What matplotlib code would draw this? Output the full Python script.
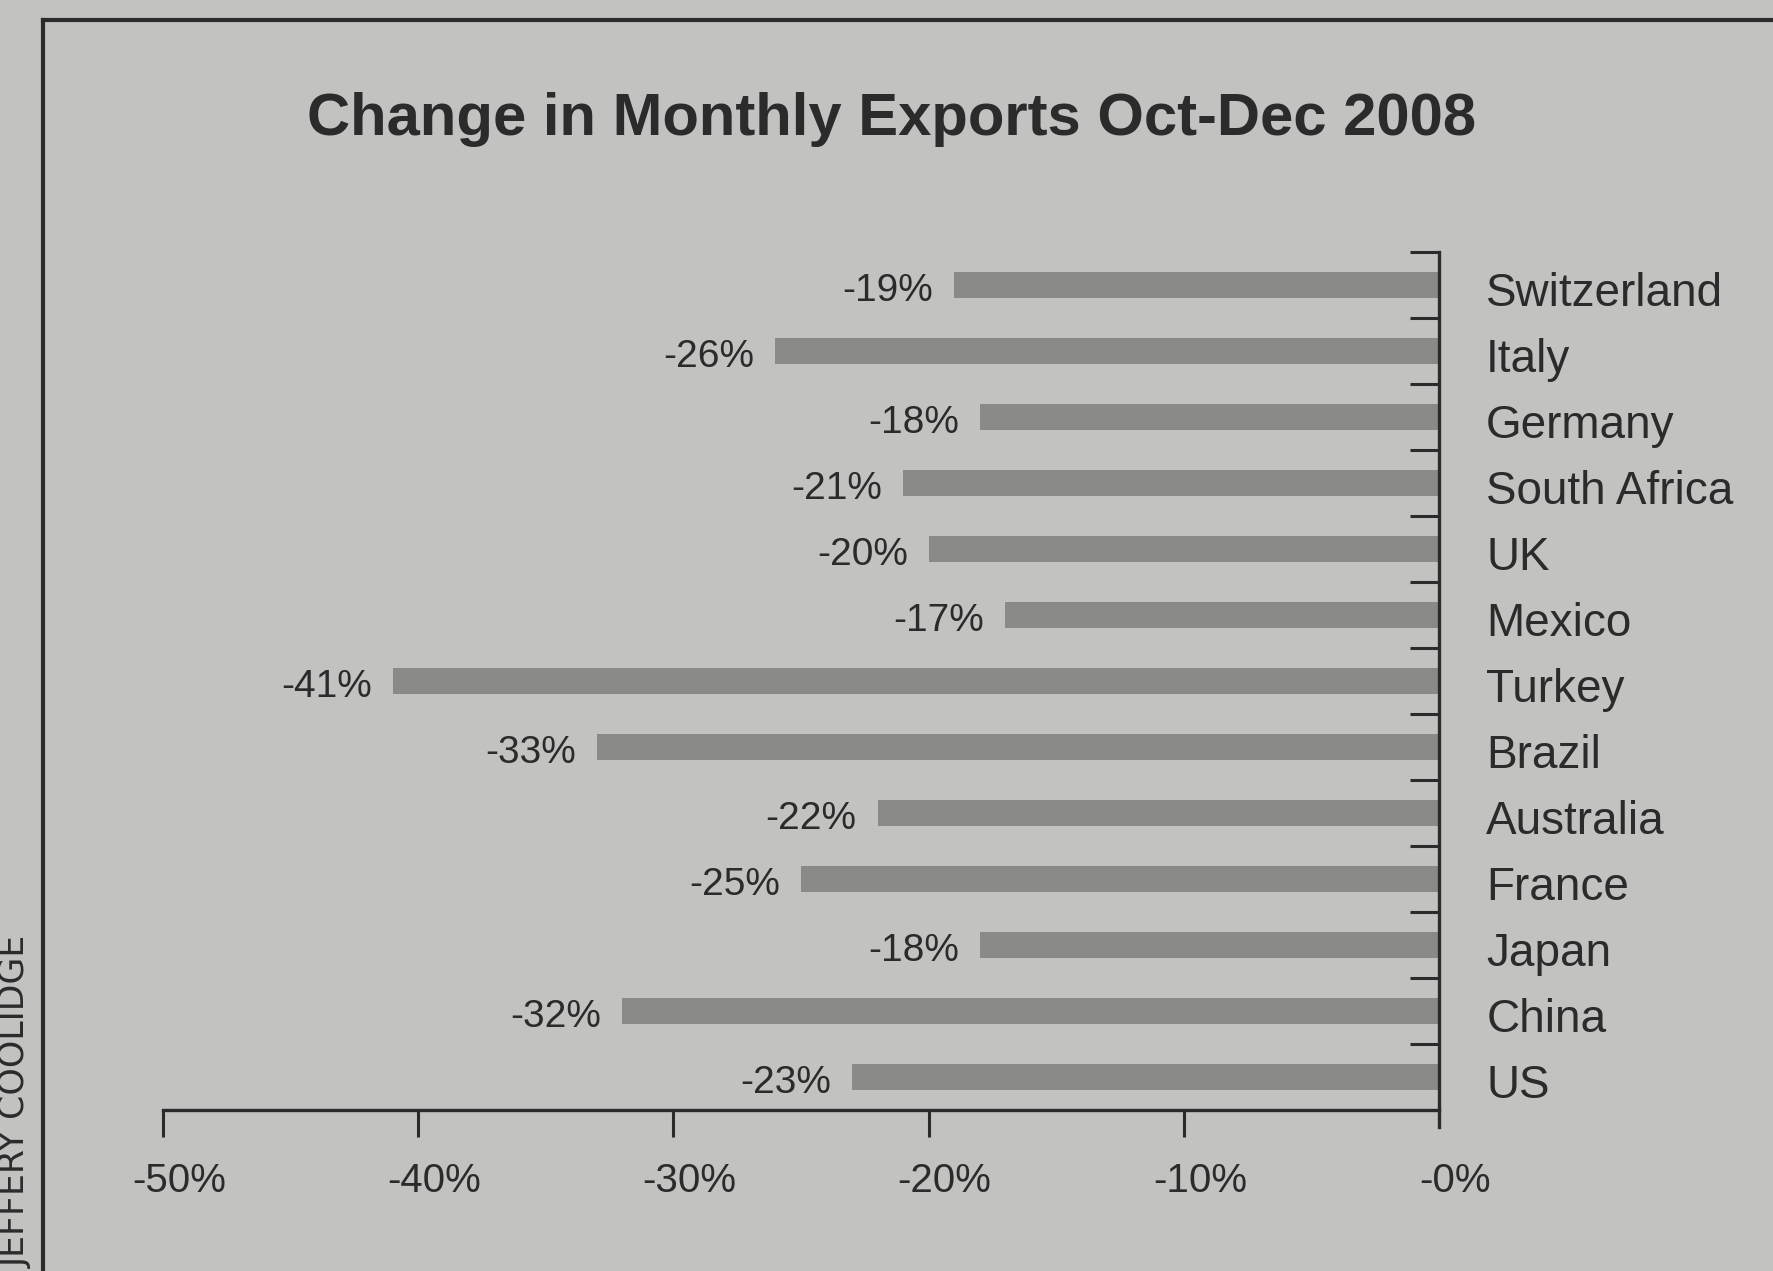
import numpy as np
import matplotlib
matplotlib.use("Agg")
import matplotlib.pyplot as plt
from matplotlib.lines import Line2D
from matplotlib.transforms import ScaledTranslation

# ---- data (top to bottom as in the chart) ----
countries = ["Switzerland", "Italy", "Germany", "South Africa", "UK", "Mexico",
             "Turkey", "Brazil", "Australia", "France", "Japan", "China", "US"]
changes = [-19, -26, -18, -21, -20, -17, -41, -33, -22, -25, -18, -32, -23]
value_labels = ["-19%", "-26%", "-18%", "-21%", "-20%", "-17%", "-41%",
                "-33%", "-22%", "-25%", "-18%", "-32%", "-23%"]
xtick_values = [-50, -40, -30, -20, -10, 0]
xtick_labels = ["-50%", "-40%", "-30%", "-20%", "-10%", "-0%"]
title = "Change in Monthly Exports Oct-Dec 2008"
credit = "JEFFERY COOLIDGE"

# ---- style ----
BG = "#c2c2c0"
BAR = "#8a8a89"
INK = "#2b2b2b"
REG = ["Liberation Sans", "DejaVu Sans"]

W, H, DPI = 1774, 1271, 100
fig = plt.figure(figsize=(W / DPI, H / DPI), dpi=DPI, facecolor=BG)

# axes placement (pixel measurements)
x_left, x_right = 163, 1439
y_top, y_bot = 252, 1127
ax = fig.add_axes([x_left / W, 1 - y_bot / H, (x_right - x_left) / W, (y_bot - y_top) / H])
ax.set_facecolor("none")

n = len(countries)
ypos = np.arange(n)[::-1]  # Switzerland at top
ax.barh(ypos, changes, height=0.38, color=BAR, edgecolor="none", zorder=2)

ax.set_xlim(-50, 0)
ax.set_ylim(-0.758, n - 0.5)

# spines
for s in ("left", "top"):
    ax.spines[s].set_visible(False)
ax.spines["bottom"].set_position(("data", -0.5))
for s in ("bottom", "right"):
    ax.spines[s].set_color(INK)
    ax.spines[s].set_linewidth(2.4)
    ax.spines[s].set_zorder(3)

# value labels
for y, v, lab in zip(ypos, changes, value_labels):
    ax.annotate(lab, xy=(v, y), xytext=(-15, -4), textcoords="offset points",
                ha="right", va="center", fontsize=28, color=INK, family=REG)

# y axis: bracket ticks on the right, country labels at centres
ax.yaxis.tick_right()
ax.set_yticks(np.arange(n) + 0.5)
ax.set_yticklabels([])
ax.set_yticks(ypos, minor=True)
ax.set_yticklabels(countries, minor=True, fontsize=33, color=INK, family=REG)
ax.tick_params(axis="y", which="major", direction="in", length=21, width=2.2,
               color=INK, right=True, left=False)
ax.tick_params(axis="y", which="minor", length=0, pad=34, right=True, left=False)
shift_y = ScaledTranslation(0, -4 / DPI, fig.dpi_scale_trans)
for lbl in ax.get_yticklabels(minor=True):
    lbl.set_transform(lbl.get_transform() + shift_y)

# x axis
ax.set_xticks(xtick_values)
ax.set_xticklabels(xtick_labels, fontsize=29, color=INK, family=REG)
ax.tick_params(axis="x", direction="out", length=19.5, width=2.2, color=INK, pad=18)
ax.xaxis.get_major_ticks()[-1].tick1line.set_visible(False)
shift = ScaledTranslation(16 / DPI, 0, fig.dpi_scale_trans)
for lbl in ax.get_xticklabels():
    lbl.set_transform(lbl.get_transform() + shift)

# title
fig.text(892 / W, 1 - 135 / H, title, ha="center", va="baseline",
         fontsize=43, fontweight="bold", color=INK, family=REG)

# frame lines
fx = 43 / W
fy = 1 - 20 / H
fig.add_artist(Line2D([fx, fx], [0, fy], transform=fig.transFigure, color=INK, lw=3))
fig.add_artist(Line2D([fx, 1], [fy, fy], transform=fig.transFigure, color=INK, lw=3))

# photo credit along the left edge
fig.text(16 / W, 3 / H, credit, rotation=90, ha="center", va="bottom",
         fontsize=25, color=INK, family=["DejaVu Sans"])

fig.savefig("out.png", dpi=DPI, facecolor=BG)
